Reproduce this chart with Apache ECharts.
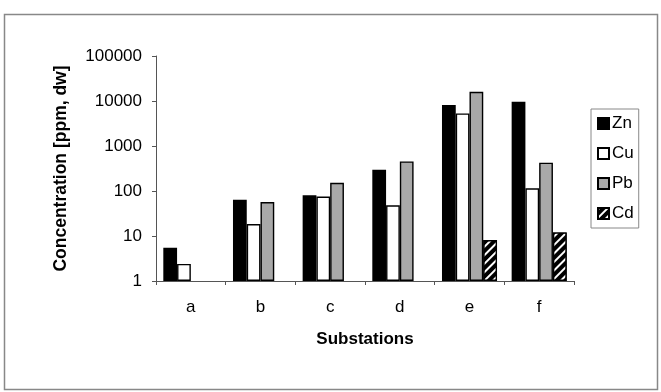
<!DOCTYPE html>
<html>
<head>
<meta charset="utf-8">
<script src="https://cdn.jsdelivr.net/npm/echarts@6/dist/echarts.min.js"></script>
<style>
html,body{margin:0;padding:0;background:#fff;}
#chart{width:661px;height:392px;}
</style>
</head>
<body>
<div id="chart"></div>
<script>
var categories = ['a', 'b', 'c', 'd', 'e', 'f'];
var seriesNames = ['Zn', 'Cu', 'Pb', 'Cd'];
var znValues = [5.5, 64, 80, 297, 8100, 9600];
var cuValues = [2.4, 18.5, 75, 48, 5300, 115];
var pbValues = [null, 57, 152, 455, 16000, 425];
var cdValues = [null, null, null, null, 8.1, 12];
var yTickLabels = ['1', '10', '100', '1000', '10000', '100000'];

var font = '"Liberation Sans", Arial, sans-serif';
var chart = echarts.init(document.getElementById('chart'), null, {renderer: 'canvas'});

function barSeries(name, data, color, extra) {
  return {
    name: name,
    type: 'bar',
    data: data,
    barGap: '0%',
    barCategoryGap: '21%',
    itemStyle: Object.assign({color: color, borderColor: '#000', borderWidth: 1.4}, extra || {})
  };
}

var option = {
  backgroundColor: '#fff',
  animation: false,
  textStyle: {fontFamily: font, color: '#000'},
  graphic: [{
    type: 'rect',
    shape: {x: 4.5, y: 14.5, width: 653, height: 375},
    style: {fill: 'none', stroke: '#888', lineWidth: 1.5},
    silent: true
  }],
  grid: {left: 156, top: 56, width: 418, height: 225, containLabel: false},
  legend: {
    orient: 'vertical',
    left: 591,
    top: 109,
    padding: [6, 5, 6, 6],
    itemGap: 13,
    itemWidth: 11,
    itemHeight: 11,
    borderColor: '#888',
    borderWidth: 1,
    textStyle: {fontFamily: font, fontSize: 17, color: '#000', padding: [0, 0, 0, -2]},
    data: seriesNames.map(function (n) { return {name: n, icon: 'rect'}; })
  },
  xAxis: {
    type: 'category',
    data: categories,
    name: 'Substations',
    nameLocation: 'middle',
    nameGap: 50,
    nameTextStyle: {fontFamily: font, fontSize: 17, fontWeight: 'bold', color: '#000'},
    axisLine: {lineStyle: {color: '#555', width: 1}},
    axisTick: {show: true, length: 4, lineStyle: {color: '#555'}},
    axisLabel: {fontFamily: font, fontSize: 17, color: '#000', margin: 18}
  },
  yAxis: {
    type: 'log',
    logBase: 10,
    min: 1,
    max: 100000,
    name: 'Concentration [ppm, dw]',
    nameLocation: 'middle',
    nameGap: 86,
    nameTextStyle: {fontFamily: font, fontSize: 17.5, fontWeight: 'bold', color: '#000'},
    splitLine: {show: false},
    axisLine: {show: true, lineStyle: {color: '#555', width: 1}},
    axisTick: {show: true, length: 4, lineStyle: {color: '#555'}},
    axisLabel: {
      fontFamily: font, fontSize: 17, color: '#000', margin: 14,
      formatter: function (v) {
        var i = Math.round(Math.log10(v));
        return yTickLabels[i] !== undefined ? yTickLabels[i] : '';
      }
    }
  },
  series: [
    barSeries('Zn', znValues, '#000'),
    barSeries('Cu', cuValues, '#fff'),
    barSeries('Pb', pbValues, '#a9a9a9'),
    barSeries('Cd', cdValues, '#000', {
      decal: {
        symbol: 'rect',
        color: '#fff',
        backgroundColor: '#000',
        dashArrayX: [1, 0],
        dashArrayY: [2, 4],
        rotation: -Math.PI / 4,
        symbolSize: 1
      }
    })
  ]
};
chart.setOption(option);
</script>
</body>
</html>
